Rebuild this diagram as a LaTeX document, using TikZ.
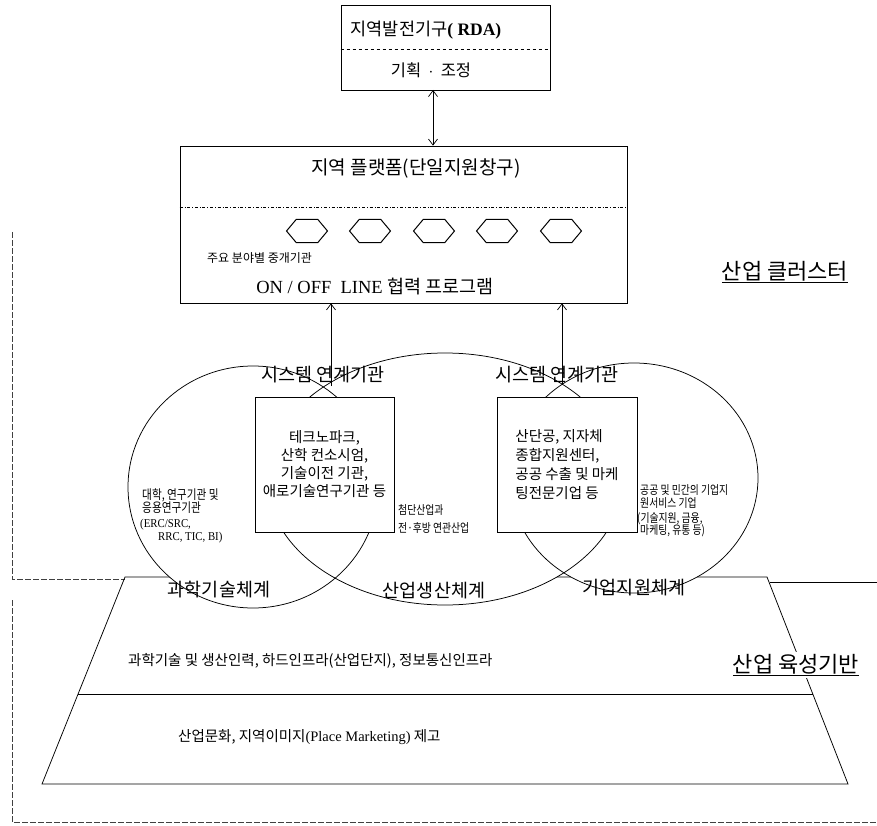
\documentclass[tikz,border=0pt]{standalone}
\usepackage{fontspec}
\setmainfont{Liberation Serif}
\newfontfamily\kr{Noto Sans CJK KR}
\newfontfamily\krc[FakeStretch=0.82]{Noto Sans CJK KR}
\newfontfamily\serc[FakeStretch=0.9]{Liberation Serif}
\usetikzlibrary{arrows.meta,shapes.symbols,calc}
\newcommand\fsz[1]{\fontsize{#1}{#1}\selectfont}
\newcommand\fszb[2]{\fontsize{#1}{#2}\selectfont}
\begin{document}
\begin{tikzpicture}[x=1pt,y=-1pt,
  box/.style={draw, line width=0.8pt, fill=white, inner sep=0pt},
  txt/.style={inner sep=0pt, font=\kr},
  barb/.style={-{Straight Barb[length=6pt,width=9pt]}, line width=0.7pt},
  dbarb/.style={{Straight Barb[length=6pt,width=9pt]}-{Straight Barb[length=6pt,width=9pt]}, line width=0.7pt},
  hexa/.style={draw, line width=1pt, shape=signal, signal to=east and west, signal pointer angle=100, minimum width=41pt, minimum height=23pt, inner sep=0pt},
  frame/.style={line width=0.6pt, black!75, dash pattern=on 6pt off 2pt},
  edge/.style={line width=0.75pt},
]
\useasboundingbox (0,0) rectangle (877,826);

% outer frame lines
\draw[frame] (12,232) -- (12,579) -- (125,579);
\draw[frame] (12,600) -- (12,822) -- (877,822);
\draw[edge] (770,582) -- (877,582);

% trapezoid (industrial base)
\coordinate (tl) at (125,577);
\coordinate (tr) at (767,577);
\coordinate (bl) at (42,784);
\coordinate (br) at (848,784);
\draw[edge] (tl) -- (tr) -- (br) -- (bl) -- cycle;
\draw[edge] ($(tl)!0.565!(bl)$) -- ($(tr)!0.565!(br)$);

% three ellipses
\fill[white] (253,487) ellipse [x radius=125pt, y radius=121pt];
\fill[white] (445,479) ellipse [x radius=178pt, y radius=126pt];
\fill[white] (634,478) ellipse [x radius=124pt, y radius=115pt];
\draw[edge] (253,487) ellipse [x radius=125pt, y radius=121pt];
\draw[edge] (445,479) ellipse [x radius=178pt, y radius=126pt];
\draw[edge] (634,478) ellipse [x radius=124pt, y radius=115pt];

% top box
\node[box, minimum width=209pt, minimum height=85pt] (rda) at (445.5,47.5) {};
\draw[line width=0.6pt, dashed] (rda.west |- 0,49) -- (rda.east |- 0,49);
\node[txt, font=\kr\fsz{17.5}] (rdat) at (426,30) {지역발전기구{\rmfamily\bfseries( RDA)}};
\node[txt, font=\kr\fsz{16.5}] (coord) at (431,70) {기획\ \ $\cdot$\ \ 조정};

% platform
\node[box, minimum width=447pt, minimum height=157pt] (plat) at (403.5,224.5) {};
\draw[line width=0.6pt, dash dot] (plat.west |- 0,207) -- (plat.east |- 0,207);
\node[txt, font=\kr\fsz{19}] (platt) at (416,168) {지역 플랫폼(단일지원창구)};
\node[hexa] (h1) at (307,231) {};
\node[hexa] (h2) at (370,231) {};
\node[hexa] (h3) at (434,231) {};
\node[hexa] (h4) at (497,231) {};
\node[hexa] (h5) at (561,231) {};
\node[txt, font=\kr\fsz{12}, anchor=west] (mid) at (207,258) {주요 분야별 중개기관};
\node[txt, font=\rmfamily\fsz{18.5}] (onoff) at (375,287) {ON / OFF\ \ LINE {\kr 협력 프로그램}};

% arrow RDA <-> platform
\coordinate (ra) at (433,90);
\draw[dbarb] (ra) -- (ra |- plat.north);

% cluster label
\node[txt, font=\kr\fsz{22}] (clus) at (785,272) {\underline{산업 클러스터}};

% system labels and arrows
\node[txt, font=\kr\fsz{18.5}] (sys1) at (323,375) {시스템 연계기관};
\node[txt, font=\kr\fsz{18.5}] (sys2) at (557,375) {시스템 연계기관};
\coordinate (x1) at (331,386);
\coordinate (x2) at (562,385);
\draw[barb] (x1) -- (x1 |- plat.south);
\draw[barb] (x2) -- (x2 |- plat.south);

% inner boxes
\node[box, minimum width=139pt, minimum height=135pt, align=center, font=\kr\fszb{14.5}{18}] (lb) at (324.5,464.5)
  {테크노파크,\\산학 컨소시엄,\\기술이전 기관,\\애로기술연구기관 등};
\node[box, minimum width=140pt, minimum height=135pt, align=left, font=\kr\fszb{14.5}{19}] (rb) at (567,464.5)
  {산단공, 지자체\\종합지원센터,\\공공 수출 및 마케\\팅전문기업 등};

% left side text
\node[txt, font=\krc\fsz{13}, anchor=west] (l1) at (142,495) {대학, 연구기관 및};
\node[txt, font=\krc\fsz{13}, anchor=west] (l2) at (142,508) {응용연구기관};
\node[txt, font=\serc\fsz{12}, anchor=west] (l3) at (140,525) {(ERC/SRC,};
\node[txt, font=\serc\fsz{12}, anchor=west] (l4) at (158,538) {RRC, TIC, BI)};

% middle text
\node[txt, font=\krc\fsz{12}, anchor=west] (m1) at (398,510) {첨단산업과};
\node[txt, font=\krc\fsz{12}, anchor=west] (m2) at (398,528) {전·후방 연관산업};

% right side text
\node[txt, font=\krc\fsz{12}, anchor=west] (r1) at (640,490) {공공 및 민간의 기업지};
\node[txt, font=\krc\fsz{12}, anchor=west] (r2) at (640,503) {원서비스 기업};
\node[txt, font=\krc\fsz{12}, anchor=west] (r3) at (637,519) {(기술지원, 금융,};
\node[txt, font=\krc\fsz{12}, anchor=west] (r4) at (640,531) {마케팅, 유통 등)};

% system names
\node[txt, font=\kr\fsz{18.5}] (s1) at (219,590) {과학기술체계};
\node[txt, font=\kr\fsz{18.5}] (s2) at (434,591) {산업생산체계};
\node[txt, font=\kr\fsz{18.5}] (s3) at (634,588) {기업지원체계};

% base texts
\node[txt, font=\kr\fsz{14.5}, anchor=west] (b1) at (128,661) {과학기술 및 생산인력, 하드인프라(산업단지), 정보통신인프라};
\node[txt, font=\kr\fsz{14.5}, anchor=west] (b2) at (178,737) {산업문화, 지역이미지{\rmfamily(Place Marketing)} 제고};
\node[txt, font=\kr\fsz{22}, fill=white, inner sep=2pt] (base) at (796,665) {\underline{산업 육성기반}};
\end{tikzpicture}
\end{document}
